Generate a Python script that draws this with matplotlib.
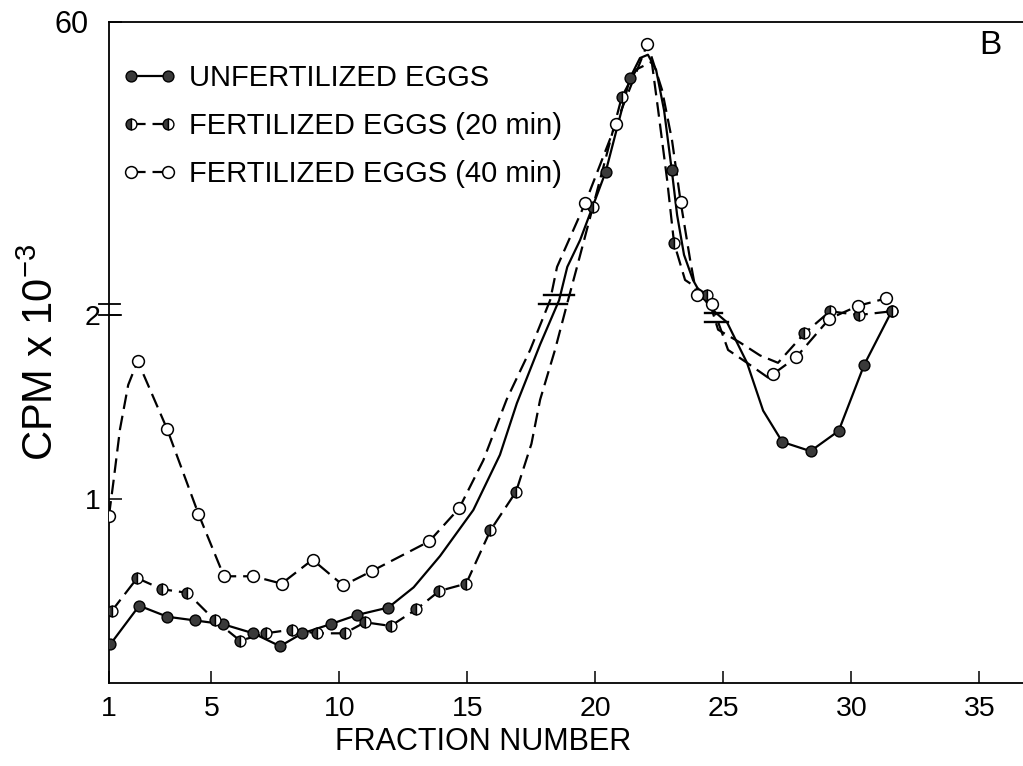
import matplotlib
matplotlib.use('Agg')
import matplotlib.pyplot as plt
import matplotlib.transforms as mtransforms
from matplotlib.lines import Line2D
import numpy as np

plt.rcParams['font.family'] = ['Liberation Sans', 'DejaVu Sans']
plt.rcParams['mathtext.fontset'] = 'custom'
plt.rcParams['mathtext.rm'] = 'Liberation Sans'
plt.rcParams['lines.scale_dashes'] = False

# --- data (fraction number, CPM x 10^-3) ---
# unfertilized eggs, marked points
unfert_frac = [1.05, 2.18, 3.28, 4.36, 5.44, 6.64, 7.68, 8.55, 9.66, 10.70, 11.91,
               20.4, 21.35, 22.98, 27.3, 28.4, 29.5, 30.5, 31.57]
unfert_cpm = [0.21, 0.42, 0.36, 0.34, 0.32, 0.27, 0.20, 0.27, 0.32, 0.37, 0.41,
              28.4, 48.2, 28.8, 1.31, 1.26, 1.37, 1.73, 2.02]
# unfertilized eggs, unmarked points along the drawn curve
unfert_curve_frac = [12.9, 13.93, 15.23, 16.27, 16.93, 17.84, 18.58, 18.9, 19.4, 21.74,
                     22.05, 22.37, 22.68, 23.19, 23.46, 23.81, 24.16, 24.55, 25.14,
                     25.92, 26.55]
unfert_curve_cpm = [0.52, 0.69, 0.94, 1.24, 1.52, 1.84, 2.08, 8.35, 14.0, 52.4,
                    53.1, 49.9, 41.4, 19.3, 10.9, 5.6, 2.22, 2.03, 1.96,
                    1.74, 1.48]

# fertilized eggs 20 min
f20_frac = [1.1, 2.1, 3.06, 4.06, 5.14, 6.12, 7.12, 8.13, 9.11, 10.2, 11.0, 12.0, 13.0,
            13.9, 14.95, 15.9, 16.9, 19.9, 21.03, 23.07, 24.37, 28.16, 29.16, 30.3, 31.57]
f20_cpm = [0.39, 0.57, 0.51, 0.49, 0.34, 0.23, 0.27, 0.29, 0.27, 0.27, 0.33, 0.31, 0.40,
           0.50, 0.54, 0.83, 1.04, 21.0, 44.2, 13.4, 2.44, 1.90, 2.02, 2.00, 2.02]
f20_curve_frac = [17.5, 17.84, 18.42, 18.93, 19.28, 21.6, 22.2, 22.45, 22.8, 23.5,
                  24.79, 25.65, 26.43, 27.13]
f20_curve_cpm = [1.30, 1.54, 1.81, 2.08, 8.35, 50.0, 51.6, 41.4, 26.7, 5.6,
                 1.92, 1.85, 1.78, 1.74]

# fertilized eggs 40 min
f40_frac = [1.0, 2.12, 3.27, 4.49, 5.49, 6.64, 7.74, 8.95, 10.15, 11.29, 13.51, 14.68,
            19.6, 20.8, 22.03, 23.33, 23.95, 24.54, 26.95, 27.84, 29.14, 30.27, 31.35]
f40_cpm = [0.91, 1.75, 1.38, 0.92, 0.58, 0.58, 0.54, 0.67, 0.53, 0.61, 0.77, 0.95,
           21.8, 38.5, 55.4, 22.0, 2.44, 2.06, 1.68, 1.77, 1.98, 2.05, 2.09]
f40_curve_frac = [1.17, 1.43, 1.75, 15.62, 16.53, 17.45, 18.23, 18.5, 22.6, 22.99,
                  23.7, 25.18, 25.92, 26.74]
f40_curve_cpm = [1.09, 1.38, 1.62, 1.21, 1.54, 1.81, 2.08, 8.35, 45.7, 35.1,
                 9.8, 1.81, 1.74, 1.66]

labels = ["UNFERTILIZED EGGS", "FERTILIZED EGGS (20 min)", "FERTILIZED EGGS (40 min)"]
x_ticks = [1, 5, 10, 15, 20, 25, 30, 35]
y_ticks = [1, 2, 60]

# broken y axis: 0-2.1 linear, above that compressed
BREAK = 2.1
UPPER_K = 0.02577


def forward(y):
    y = np.asarray(y, dtype=float)
    return np.where(y <= BREAK, y, BREAK + (y - BREAK) * UPPER_K)


def inverse(t):
    t = np.asarray(t, dtype=float)
    return np.where(t <= BREAK, t, BREAK + (t - BREAK) / UPPER_K)


def curve(fr, cpm, cfr, ccpm):
    x = np.concatenate([fr, cfr])
    y = np.concatenate([cpm, ccpm])
    order = np.argsort(x)
    return x[order], y[order]


fig = plt.figure(figsize=(10.23, 7.66), dpi=100)
ax = fig.add_axes([109 / 1023, 1 - 683 / 766, 1 - 109 / 1023, (683 - 22) / 766])
ax.set_yscale('function', functions=(forward, inverse))
ax.set_xlim(1, 36.7)
ax.set_ylim(0, 60)

dash = (0, (10.5, 5))
solid_style = dict(marker='o', ms=7.8, mfc='#3a3a3a', mec='black', mew=1.0)
half_style = dict(marker='o', ms=7.8, fillstyle='left', mfc='#3a3a3a',
                  mfcalt='white', mec='black', mew=1.0)
open_style = dict(marker='o', ms=8.5, mfc='white', mec='black', mew=1.1)

x, y = curve(unfert_frac, unfert_cpm, unfert_curve_frac, unfert_curve_cpm)
ax.plot(x, y, color='black', lw=1.6, zorder=2)
x, y = curve(f20_frac, f20_cpm, f20_curve_frac, f20_curve_cpm)
ax.plot(x, y, color='black', lw=1.6, ls=dash, zorder=2)
x, y = curve(f40_frac, f40_cpm, f40_curve_frac, f40_curve_cpm)
ax.plot(x, y, color='black', lw=1.6, ls=dash, zorder=2)

ax.plot(unfert_frac, unfert_cpm, ls='none', zorder=3, **solid_style)
ax.plot(f20_frac, f20_cpm, ls='none', zorder=3, **half_style)
ax.plot(f40_frac, f40_cpm, ls='none', zorder=3, **open_style)

# scale-break marks across the curves
for xs, yv in [((18.0, 19.15), 2.44), ((17.8, 18.9), 2.06),
               ((24.28, 24.95), 2.01), ((24.28, 25.18), 1.96)]:
    ax.plot(xs, [yv, yv], color='black', lw=1.7, zorder=4)

# scale-break marks on the y axis
blend = mtransforms.blended_transform_factory(ax.transAxes, ax.transData)
for yv in (2.0, 2.06):
    ax.plot([-0.011, 0.012], [yv, yv], color='black', lw=1.3,
            transform=blend, clip_on=False)

ax.set_xticks(x_ticks)
ax.set_xticklabels([str(v) for v in x_ticks])
ax.set_yticks(y_ticks)
ax.set_yticklabels([str(v) for v in y_ticks])
ax.tick_params(axis='x', direction='in', length=9, width=1.1, labelsize=20.5, pad=9)
ax.tick_params(axis='y', direction='in', length=9, width=1.1, labelsize=20.5, pad=6)
ax.minorticks_off()
# the top label sits further left and a little larger in the original
top_label = ax.get_yticklabels()[-1]
top_label.set_fontsize(22)
top_label.set_transform(top_label.get_transform()
                        + mtransforms.ScaledTranslation(-12 / 100, 0, fig.dpi_scale_trans))

ax.spines['right'].set_visible(False)
for s in ('left', 'top', 'bottom'):
    ax.spines[s].set_linewidth(1.3)

handles = [
    Line2D([], [], color='black', lw=1.6, **solid_style),
    Line2D([], [], color='black', lw=1.6, ls=dash, **half_style),
    Line2D([], [], color='black', lw=1.6, ls=dash, **open_style),
]
ax.legend(handles, labels, loc='upper left', bbox_to_anchor=(0.014, 0.936),
          frameon=False, numpoints=2, handlelength=1.9, handletextpad=0.4,
          labelspacing=0.68, fontsize=21, borderpad=0, borderaxespad=0)

ax.set_xlabel("FRACTION NUMBER", fontsize=22)
ax.xaxis.set_label_coords((483 - 109) / 914, -(742 - 683) / 661)
ax.xaxis.label.set_va('center')
fig.text(42 / 1023, 1 - 352 / 766, "CPM x 10$^{-3}$", rotation=90,
         ha='center', va='center', fontsize=30)
fig.text(990 / 1023, 1 - 45 / 766, "B", ha='center', va='center', fontsize=24)

plt.savefig("out.png", dpi=100)
plt.close()
